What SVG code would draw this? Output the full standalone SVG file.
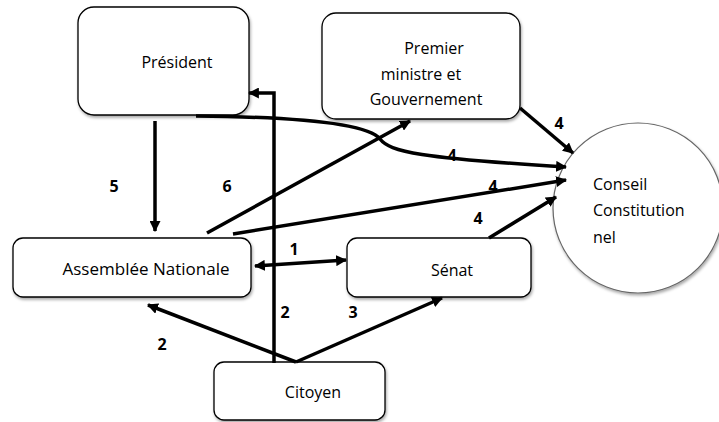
<svg xmlns="http://www.w3.org/2000/svg" width="719" height="422" viewBox="0 0 719 422">
  <defs>
    <filter id="shadow" x="-10%" y="-10%" width="130%" height="130%">
      <feDropShadow dx="1" dy="2" stdDeviation="1.5" flood-color="#000" flood-opacity="0.35"/>
    </filter>
    <marker id="arrow" viewBox="0 0 10 10" refX="9" refY="5" markerWidth="11" markerHeight="11" markerUnits="userSpaceOnUse" orient="auto-start-reverse">
      <path d="M0,0 L10,5 L0,10 z" fill="#000"/>
    </marker>
  </defs>
  <style>
    .box { fill: #fff; stroke: #000; stroke-width: 1.3; filter: url(#shadow); }
    .circ { fill: #fff; stroke: #666; stroke-width: 1.2; filter: url(#shadow); }
    .txt { font-family: "Open Sans", "Liberation Sans", sans-serif; font-size: 16px; fill: #000; }
    .lbl { font-family: "Open Sans", "Liberation Sans", sans-serif; font-size: 16px; font-weight: bold; fill: #000; }
    .edge { fill: none; stroke: #000; stroke-width: 3.5; }
  </style>
  <rect width="719" height="422" fill="#fff"/>

  <g id="president">
    <rect class="box" x="78" y="7" width="171" height="108" rx="16"/>
    <text class="txt" x="177" y="68" text-anchor="middle">Président</text>
  </g>

  <g id="premier-ministre">
    <rect class="box" x="322" y="13" width="198" height="106" rx="14"/>
    <text class="txt" x="434" y="54" text-anchor="middle">Premier</text>
    <text class="txt" x="421" y="80" text-anchor="middle">ministre et</text>
    <text class="txt" x="426" y="105" text-anchor="middle">Gouvernement</text>
  </g>

  <g id="conseil-constitutionnel">
    <circle class="circ" cx="638" cy="208" r="85"/>
    <text class="txt" x="593" y="190">Conseil</text>
    <text class="txt" x="593" y="216">Constitution</text>
    <text class="txt" x="593" y="243">nel</text>
  </g>

  <g id="assemblee-nationale">
    <rect class="box" x="13" y="238" width="238" height="59" rx="10"/>
    <text class="txt" x="146" y="275" text-anchor="middle" style="font-size:17px">Assemblée Nationale</text>
  </g>

  <g id="senat">
    <rect class="box" x="347" y="238" width="184" height="59" rx="10"/>
    <text class="txt" x="452" y="276" text-anchor="middle">Sénat</text>
  </g>

  <g id="citoyen">
    <rect class="box" x="214" y="362" width="171" height="58" rx="10"/>
    <text class="txt" x="313" y="398" text-anchor="middle">Citoyen</text>
  </g>

  <g id="connectors">
    <!-- 5: Président -> Assemblée -->
    <path class="edge" d="M155,121 L155,231" marker-end="url(#arrow)"/>
    <!-- 6: Assemblée -> Premier ministre -->
    <path class="edge" d="M207,233 L410,121" marker-end="url(#arrow)"/>
    <!-- Président -> Conseil (curved) -->
    <path class="edge" d="M196,116 C300,117 368,124 380,139 C390,152 420,158 566,167" marker-end="url(#arrow)"/>
    <!-- Premier ministre -> Conseil -->
    <path class="edge" d="M520,108 L573,153" marker-end="url(#arrow)"/>
    <!-- Assemblée -> Conseil -->
    <path class="edge" d="M233,234 L566,180" marker-end="url(#arrow)"/>
    <!-- Sénat -> Conseil -->
    <path class="edge" d="M489,238 L556,197" marker-end="url(#arrow)"/>
    <!-- 1: Assemblée <-> Sénat -->
    <path class="edge" d="M255,266 L346,260" marker-start="url(#arrow)" marker-end="url(#arrow)"/>
    <!-- 2: Citoyen -> Président -->
    <path class="edge" d="M274,363 L274,93 L249,93" marker-end="url(#arrow)"/>
    <!-- 2: Citoyen -> Assemblée -->
    <path class="edge" d="M296,362 L148,305" marker-end="url(#arrow)"/>
    <!-- 3: Citoyen -> Sénat -->
    <path class="edge" d="M296,362 L442,298" marker-end="url(#arrow)"/>

    <text class="lbl" x="114" y="192" text-anchor="middle">5</text>
    <text class="lbl" x="227" y="192" text-anchor="middle">6</text>
    <text class="lbl" x="559" y="129" text-anchor="middle">4</text>
    <text class="lbl" x="452" y="161" text-anchor="middle">4</text>
    <text class="lbl" x="493" y="192" text-anchor="middle">4</text>
    <text class="lbl" x="478" y="224" text-anchor="middle">4</text>
    <text class="lbl" x="294" y="255" text-anchor="middle">1</text>
    <text class="lbl" x="285" y="318" text-anchor="middle">2</text>
    <text class="lbl" x="353" y="318" text-anchor="middle">3</text>
    <text class="lbl" x="162" y="350" text-anchor="middle">2</text>
  </g>
</svg>
